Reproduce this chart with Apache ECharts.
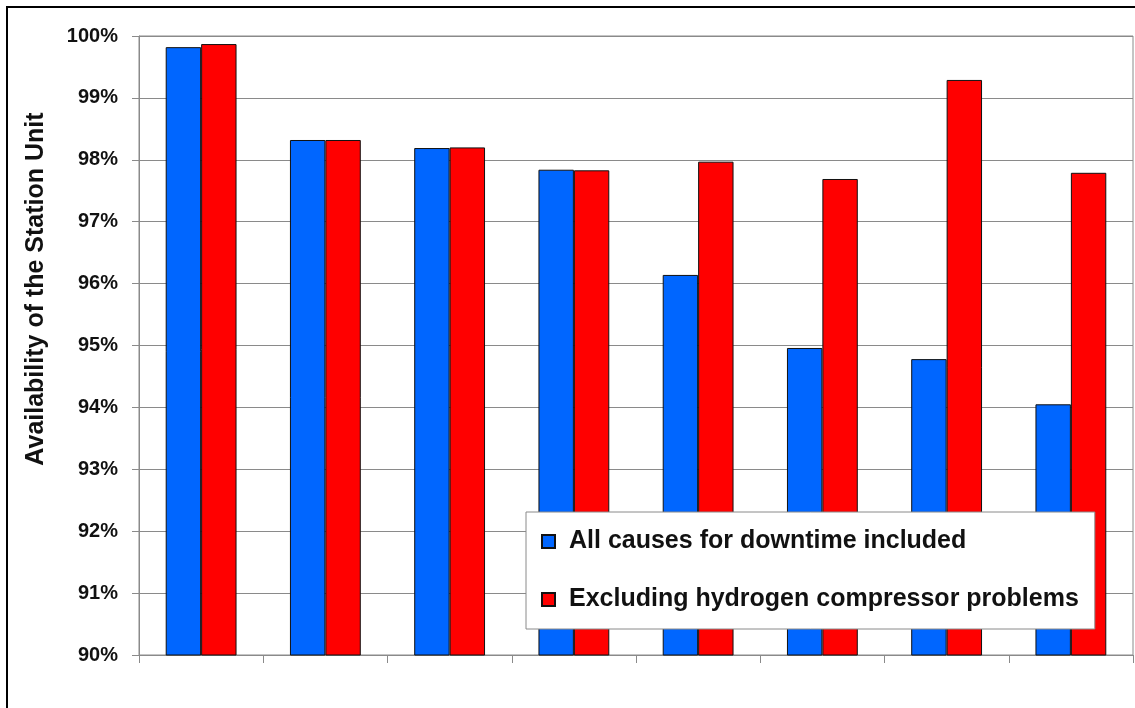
<!DOCTYPE html>
<html>
<head>
<meta charset="utf-8">
<title>Station Unit Availability</title>
<script src="https://cdn.jsdelivr.net/npm/echarts@6/dist/echarts.min.js"></script>
<style>
  html, body { margin: 0; padding: 0; background: #ffffff; }
  #chart { width: 1135px; height: 708px; }
</style>
</head>
<body>
<div id="chart"></div>
<script>
// Station units (no labels are drawn on the category axis)
const units = ['1', '2', '3', '4', '5', '6', '7', '8'];

// Availability in percent
const allCauses = [99.82, 98.32, 98.19, 97.84, 96.14, 94.96, 94.78, 94.05];
const excludingCompressor = [99.87, 98.32, 98.20, 97.83, 97.97, 97.69, 99.29, 97.79];

const seriesNames = ['All causes for downtime included', 'Excluding hydrogen compressor problems'];
const axisTitle = 'Availability of the Station Unit';

const FONT = '"Liberation Sans", Arial, Helvetica, sans-serif';
const GRID_GRAY = '#8a8a8a';

const chart = echarts.init(document.getElementById('chart'), null, { renderer: 'canvas' });

chart.setOption({
  animation: false,
  backgroundColor: '#ffffff',
  textStyle: { fontFamily: FONT },
  grid: {
    left: 139, right: 2, top: 36, bottom: 53,
    show: true, borderColor: GRID_GRAY, borderWidth: 1, backgroundColor: 'transparent'
  },
  legend: {
    orient: 'vertical',
    left: 526, top: 512,
    padding: [17, 16, 17, 15],
    itemGap: 33,
    itemWidth: 13, itemHeight: 13,
    icon: 'rect',
    backgroundColor: '#ffffff',
    borderColor: '#8a8a8a', borderWidth: 1,
    textStyle: { fontFamily: FONT, fontSize: 25, fontWeight: 'bold', color: '#111', padding: [0, 0, 0, 9] },
    data: seriesNames
  },
  xAxis: {
    type: 'category',
    data: units,
    axisLine: { lineStyle: { color: GRID_GRAY, width: 1 } },
    axisTick: { show: true, length: 8, lineStyle: { color: GRID_GRAY } },
    axisLabel: { show: false },
    splitLine: { show: false }
  },
  yAxis: {
    type: 'value',
    min: 90, max: 100, interval: 1,
    axisLine: { show: true, lineStyle: { color: GRID_GRAY, width: 1 } },
    axisTick: { show: true, length: 7, lineStyle: { color: GRID_GRAY } },
    axisLabel: {
      formatter: '{value}%',
      fontFamily: FONT, fontSize: 20, fontWeight: 'bold', color: '#111',
      margin: 21
    },
    splitLine: { show: true, lineStyle: { color: GRID_GRAY, width: 1 } }
  },
  series: [
    {
      name: seriesNames[0],
      type: 'bar',
      data: allCauses,
      barGap: '0%',
      barCategoryGap: '43%',
      itemStyle: { color: '#0066ff', borderColor: '#111', borderWidth: 1 }
    },
    {
      name: seriesNames[1],
      type: 'bar',
      data: excludingCompressor,
      barGap: '0%',
      barCategoryGap: '43%',
      itemStyle: { color: '#ff0000', borderColor: '#111', borderWidth: 1 }
    }
  ],
  graphic: [
    {
      type: 'rect',
      shape: { x: 7, y: 7, width: 1160, height: 740 },
      style: { fill: 'none', stroke: '#000', lineWidth: 2 },
      silent: true
    },
    {
      type: 'text',
      x: 36, y: 289,
      rotation: Math.PI / 2,
      style: {
        text: axisTitle,
        fontFamily: FONT, fontSize: 25, fontWeight: 'bold', fill: '#111',
        align: 'center', verticalAlign: 'middle'
      },
      silent: true
    }
  ]
});
</script>
</body>
</html>
